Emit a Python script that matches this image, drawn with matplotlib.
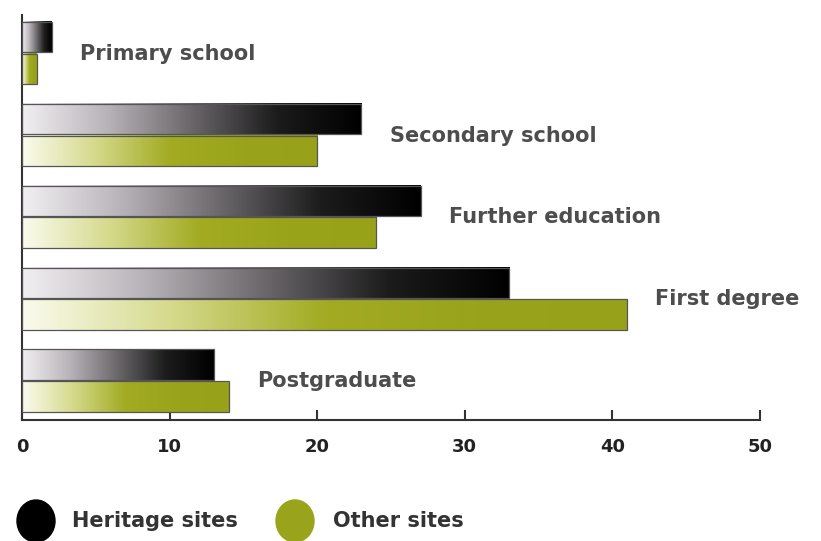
import numpy as np
import matplotlib
matplotlib.use('Agg')
import matplotlib.pyplot as plt
from matplotlib.colors import LinearSegmentedColormap
from matplotlib.patches import Ellipse

categories = ['Primary school', 'Secondary school', 'Further education', 'First degree', 'Postgraduate']
heritage = [2, 23, 27, 33, 13]
other = [1, 20, 24, 41, 14]
series_names = ['Heritage sites', 'Other sites']

black_cmap = LinearSegmentedColormap.from_list('blk', ['#f2eff3', '#b8b3b8', '#6a666a', '#1c1c1c', '#000000'])
green_cmap = LinearSegmentedColormap.from_list('grn', ['#fbfbee', '#d4d98a', '#a2ab22', '#9aa41a', '#98a218'])
label_color = '#4d4d4d'

fig = plt.figure(figsize=(8.21, 5.41), dpi=100)
ax = fig.add_axes([22 / 821, 121 / 541, 738 / 821, 405 / 541])

y = np.arange(len(categories))
h = 0.37
grad = np.linspace(0, 1, 256).reshape(1, -1)

bars_h = ax.barh(y - 0.195, heritage, height=h, color='none', edgecolor='#555555', linewidth=0.9, zorder=3)
bars_o = ax.barh(y + 0.195, other, height=h, color='none', edgecolor='#555555', linewidth=0.9, zorder=3)

for bars, cmap in [(bars_h, black_cmap), (bars_o, green_cmap)]:
    for b in bars:
        x0, y0 = b.get_x(), b.get_y()
        ax.imshow(grad, cmap=cmap, aspect='auto', extent=[x0, x0 + b.get_width(), y0 + b.get_height(), y0],
                  zorder=2, interpolation='bilinear')

for i, cat in enumerate(categories):
    end = max(heritage[i], other[i])
    ax.text(end + 1.9, i + 0.01, cat, ha='left', va='center', fontsize=15, fontweight='bold', color=label_color)

ax.set_xlim(0, 50)
ax.set_ylim(4.48, -0.46)
ax.set_xticks([0, 10, 20, 30, 40, 50])
ax.set_yticks(y)
ax.set_yticklabels([])
ax.tick_params(axis='x', direction='in', length=7, width=1.5, color='#333333', pad=13,
               labelsize=13, labelcolor='#222222')
ax.tick_params(axis='y', direction='in', length=6, width=2, color='#222222')
for t in ax.get_xticklabels():
    t.set_fontweight('bold')
for s in ['top', 'right']:
    ax.spines[s].set_visible(False)
for s in ['left', 'bottom']:
    ax.spines[s].set_color('#333333')
    ax.spines[s].set_linewidth(1.5)

# legend
fig.add_artist(Ellipse((36 / 821, 20 / 541), 38 / 821, 42 / 541, transform=fig.transFigure, color='#000000'))
fig.add_artist(Ellipse((295 / 821, 20 / 541), 38 / 821, 42 / 541, transform=fig.transFigure, color='#9aa41a'))
fig.text(72 / 821, 20 / 541, series_names[0], ha='left', va='center', fontsize=15, fontweight='bold', color='#333333')
fig.text(333 / 821, 20 / 541, series_names[1], ha='left', va='center', fontsize=15, fontweight='bold', color='#333333')

fig.savefig('out.png', dpi=100)
